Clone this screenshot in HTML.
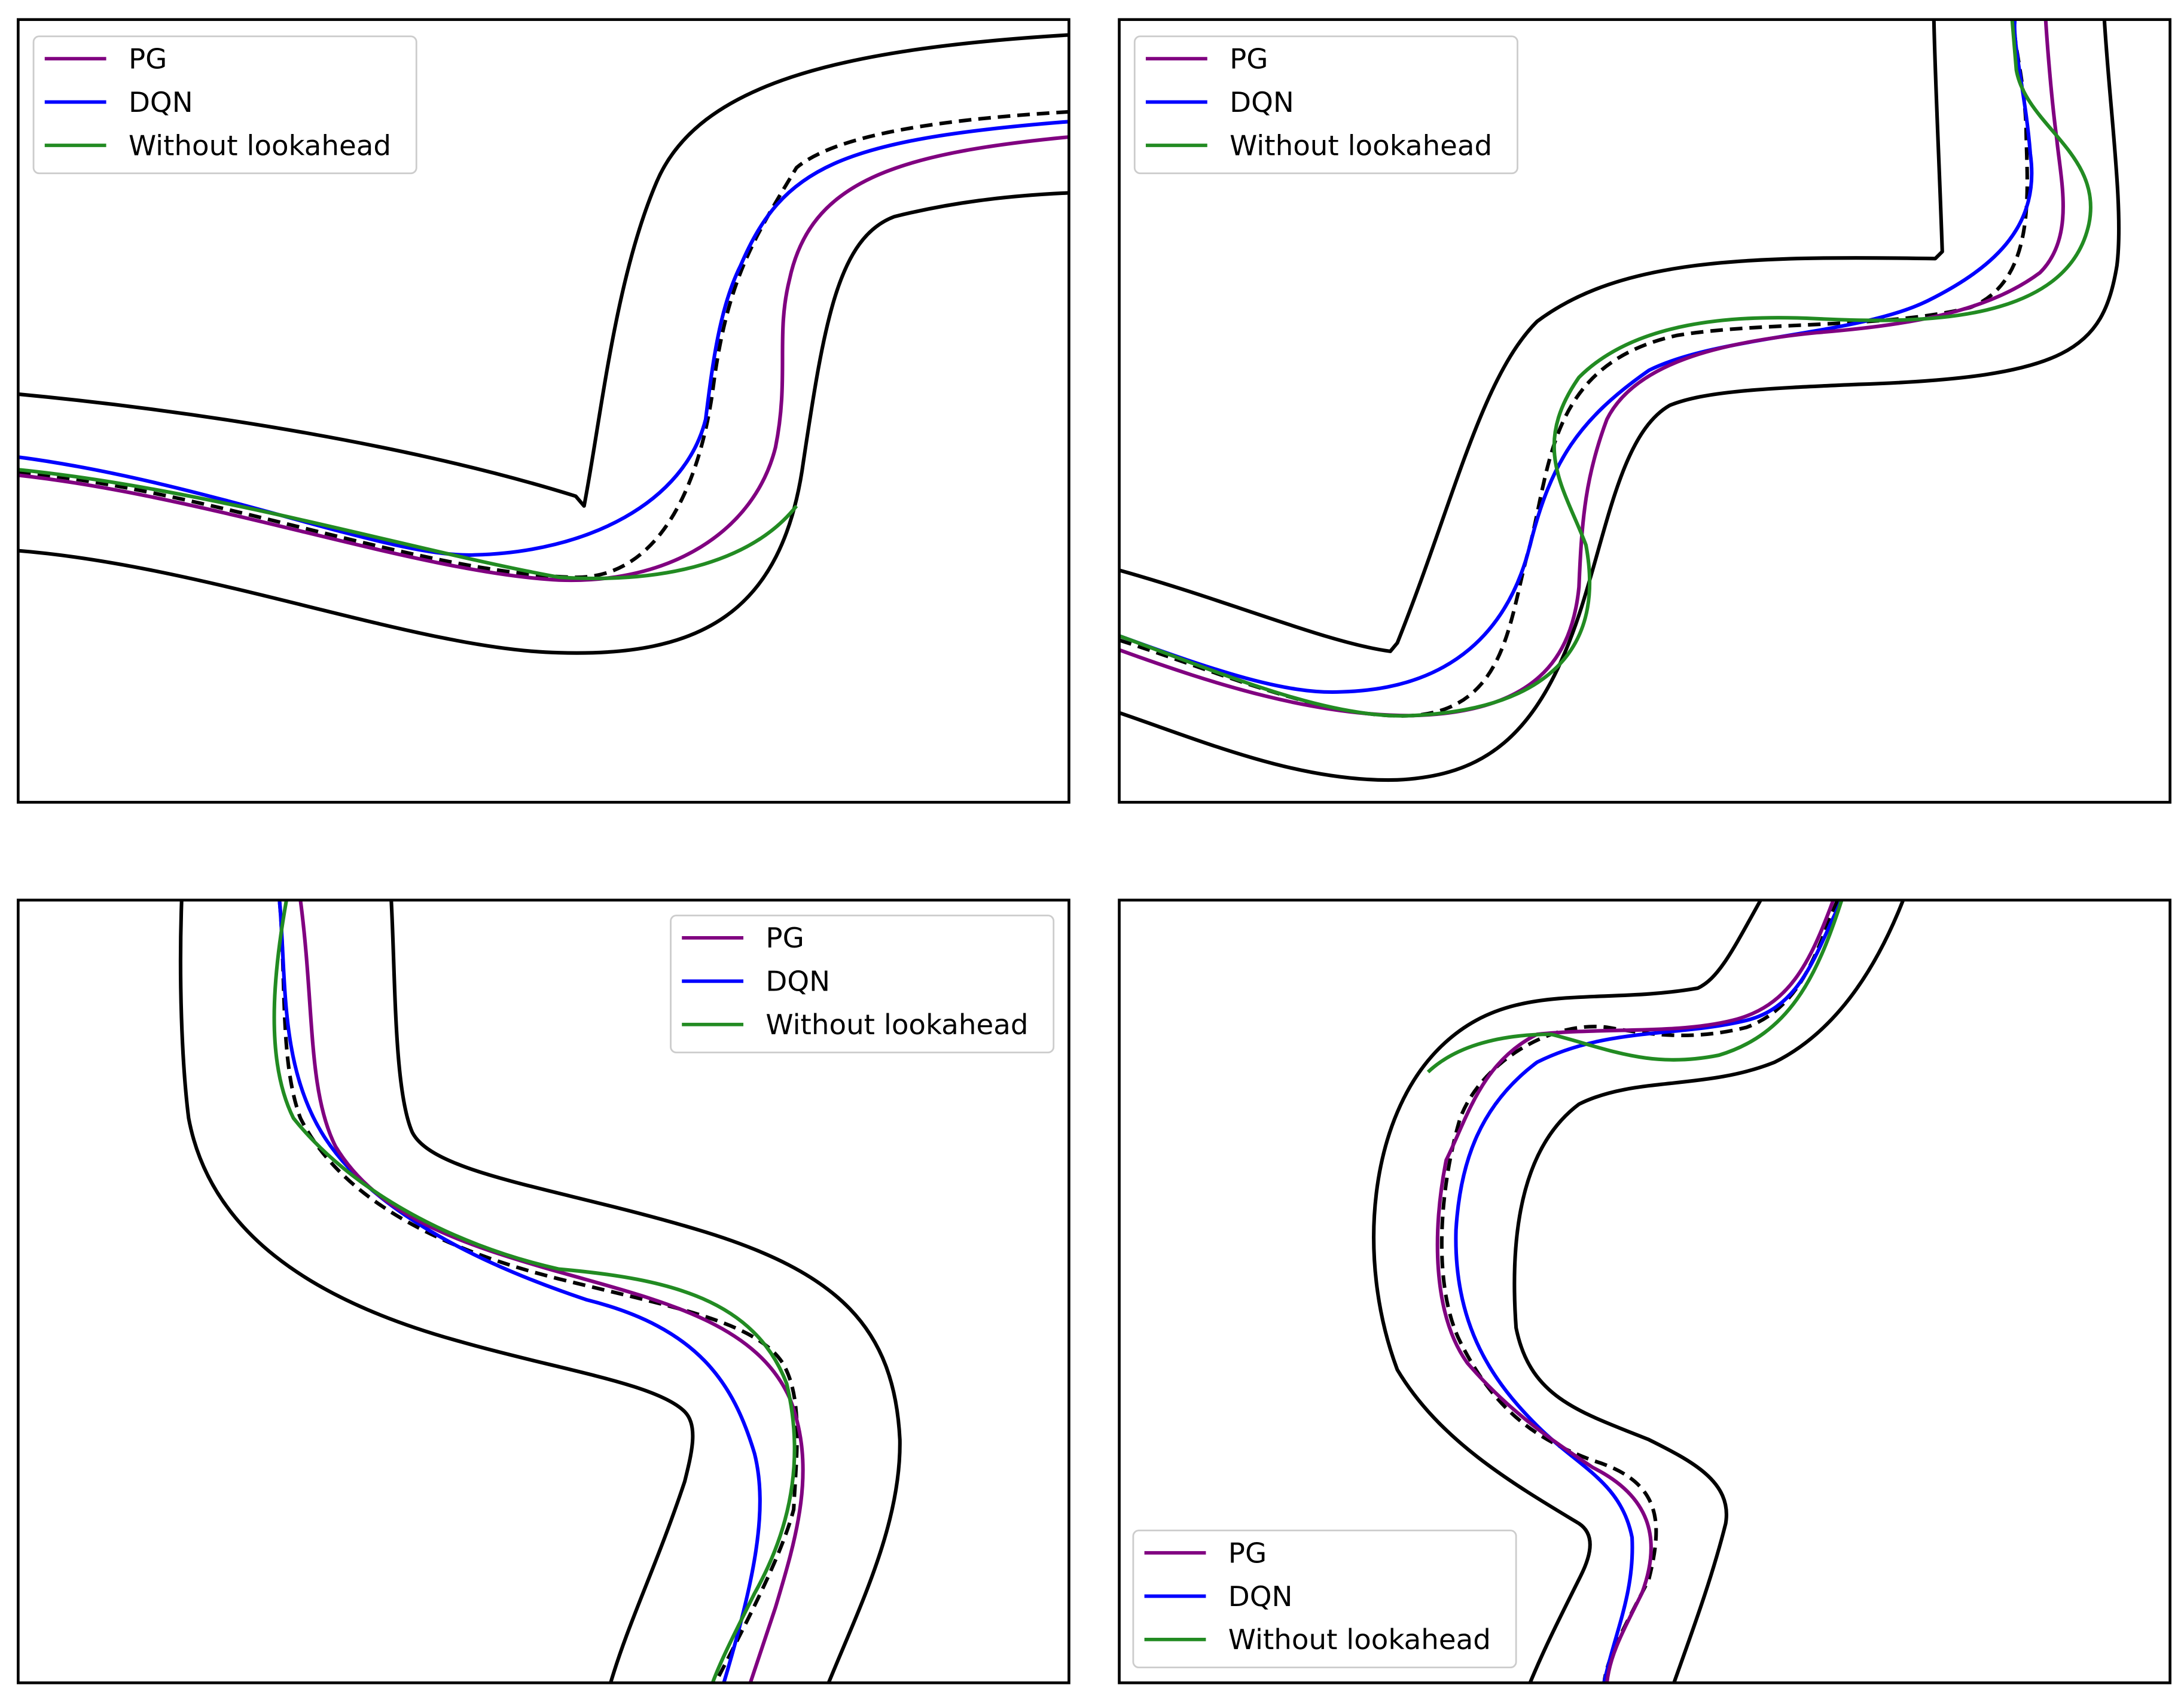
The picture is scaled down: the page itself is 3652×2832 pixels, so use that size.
<!DOCTYPE html>
<html><head><meta charset="utf-8"><style>
html,body{margin:0;padding:0;background:#fff;}
svg{display:block;}
text{font-family:"DejaVu Sans","Liberation Sans",sans-serif;font-size:20px;fill:#000;}
</style></head><body>
<svg width="3652" height="2832" viewBox="0 0 1563 1212" preserveAspectRatio="none" xmlns="http://www.w3.org/2000/svg">
<g fill="none" stroke-width="2.6" stroke-linejoin="round">
<!-- TL -->
<g>
<path stroke="#000" d="M13,282 C150,295 300,320 412,355 L418,362 C430,300 440,200 470,130 C500,60 600,35 765,25"/>
<path stroke="#000" d="M13,394 C150,405 300,465 400,467 C500,470 560,440 575,330 C590,230 600,170 640,155 C680,145 720,140 765,138"/>
<path stroke="#000" stroke-dasharray="9,5" d="M13,338 C150,350 300,410 410,413 C470,415 500,350 510,280 C520,200 540,170 570,120 C600,95 680,85 765,80"/>
<path stroke="#0000ff" d="M13,327 C150,345 280,400 340,397 C420,395 490,360 505,300 C510,260 515,220 530,190 C560,120 600,100 765,87"/>
<path stroke="#800080" d="M13,340 C150,355 300,410 400,415 C480,418 540,380 555,320 C565,270 555,240 565,200 C580,130 640,110 765,98"/>
<path stroke="#228b22" d="M13,336 C150,350 300,395 400,413 C480,418 540,400 570,362"/>
</g>
<!-- TR -->
<g>
<path stroke="#000" d="M801,408 C880,430 950,460 995,466 L1000,460 C1040,360 1060,270 1100,230 C1160,185 1250,183 1385,185 L1390,180 C1388,120 1385,60 1384,14"/>
<path stroke="#000" d="M1506,14 C1510,80 1520,150 1515,190 C1505,250 1480,270 1330,275 C1260,278 1220,280 1195,290 C1160,310 1150,380 1130,440 C1100,530 1060,555 1000,558 C930,560 860,530 801,510"/>
<path stroke="#000" stroke-dasharray="9,5" d="M801,458 C870,480 950,515 1010,512 C1080,508 1080,440 1095,390 C1110,330 1110,260 1200,240 C1260,230 1350,235 1410,220 C1460,200 1450,130 1450,90 C1448,50 1440,30 1442,14"/>
<path stroke="#0000ff" d="M801,455 C870,480 920,497 960,495 C1040,493 1080,450 1095,390 C1110,330 1130,300 1180,265 C1230,240 1330,240 1380,215 C1430,190 1460,160 1453,110 C1450,70 1440,30 1442,14"/>
<path stroke="#800080" d="M801,465 C870,490 940,512 1010,512 C1100,510 1125,470 1130,420 C1132,370 1135,340 1150,300 C1170,260 1230,245 1300,238 C1360,233 1420,225 1460,195 C1485,170 1475,130 1472,100 C1468,70 1465,30 1464,14"/>
<path stroke="#228b22" d="M801,455 C870,480 950,515 1010,512 C1100,508 1150,470 1135,390 C1120,350 1095,320 1130,270 C1170,230 1240,225 1300,228 C1380,232 1480,230 1495,160 C1505,110 1450,90 1443,50 L1440,14"/>
</g>
<!-- BL -->
<g>
<path stroke="#000" d="M130,644 C128,700 130,760 135,800 C150,880 220,930 330,960 C400,980 470,990 490,1010 C500,1020 495,1040 490,1060 C470,1120 450,1160 437,1204"/>
<path stroke="#000" d="M280,644 C283,700 282,780 295,810 C310,840 400,850 500,880 C600,910 640,950 644,1030 C645,1090 615,1150 593,1204"/>
<path stroke="#000" stroke-dasharray="9,5" d="M200,644 C205,700 200,760 215,800 C240,850 300,890 400,915 C480,935 540,945 560,975 C575,1000 570,1040 568,1080 C560,1110 540,1150 512,1204"/>
<path stroke="#0000ff" d="M200,644 C205,700 200,760 230,810 C260,860 330,900 420,930 C500,950 525,990 540,1040 C550,1080 540,1130 518,1204"/>
<path stroke="#800080" d="M215,644 C225,720 220,780 240,820 C270,870 330,890 400,910 C470,930 540,945 565,1000 C585,1050 570,1100 555,1150 C545,1180 540,1195 537,1204"/>
<path stroke="#228b22" d="M205,644 C195,700 190,760 210,800 C250,850 320,890 400,908 C480,915 540,930 563,990 C575,1040 568,1090 540,1140 C525,1170 515,1190 510,1204"/>
</g>
<!-- BR -->
<g>
<path stroke="#000" d="M1260,644 C1240,680 1230,700 1215,707 C1140,720 1080,700 1030,750 C980,800 970,900 1000,980 C1030,1030 1080,1060 1130,1090 C1145,1100 1135,1120 1130,1130 C1115,1160 1105,1180 1095,1204"/>
<path stroke="#000" d="M1362,644 C1340,700 1310,740 1270,760 C1220,780 1170,770 1130,790 C1090,820 1080,880 1085,950 C1095,1000 1130,1010 1180,1030 C1210,1045 1240,1060 1235,1090 C1225,1130 1210,1170 1198,1204"/>
<path stroke="#000" stroke-dasharray="9,5" d="M1315,644 C1300,680 1290,720 1250,735 C1210,745 1180,740 1150,735 C1110,730 1060,760 1045,800 C1030,850 1025,920 1045,960 C1070,1010 1100,1030 1140,1045 C1190,1060 1190,1090 1180,1130 C1165,1160 1150,1185 1148,1204"/>
<path stroke="#0000ff" d="M1318,644 C1300,680 1290,720 1250,730 C1200,742 1150,735 1100,760 C1060,790 1045,830 1042,880 C1040,950 1070,990 1100,1020 C1130,1050 1160,1060 1168,1100 C1170,1140 1155,1170 1148,1204"/>
<path stroke="#800080" d="M1312,644 C1295,690 1280,720 1240,730 C1200,740 1150,735 1100,740 C1060,760 1050,800 1035,830 C1025,880 1025,940 1050,975 C1080,1010 1110,1030 1140,1050 C1180,1070 1190,1100 1175,1140 C1160,1170 1152,1185 1150,1204"/>
<path stroke="#228b22" d="M1318,644 C1300,700 1280,740 1230,755 C1180,765 1150,750 1110,740 C1070,740 1040,750 1022,767"/>
</g>
</g>
<!-- frames -->
<g fill="none" stroke="#000" stroke-width="2">
<rect x="13" y="14" width="752" height="560"/>
<rect x="801" y="14" width="752" height="560"/>
<rect x="13" y="644" width="752" height="560"/>
<rect x="801" y="644" width="752" height="560"/>
</g>
<!-- legends -->
<g>
<g transform="translate(24,26)">
<rect x="0" y="0" width="274" height="98" rx="4" fill="#fff" fill-opacity="0.85" stroke="#ccc" stroke-width="1.2"/>
<line x1="8" y1="16" x2="52" y2="16" stroke="#800080" stroke-width="2.5"/><text x="68" y="23">PG</text>
<line x1="8" y1="47" x2="52" y2="47" stroke="#0000ff" stroke-width="2.5"/><text x="68" y="54">DQN</text>
<line x1="8" y1="78" x2="52" y2="78" stroke="#228b22" stroke-width="2.5"/><text x="68" y="85">Without lookahead</text>
</g>
<g transform="translate(812,26)">
<rect x="0" y="0" width="274" height="98" rx="4" fill="#fff" fill-opacity="0.85" stroke="#ccc" stroke-width="1.2"/>
<line x1="8" y1="16" x2="52" y2="16" stroke="#800080" stroke-width="2.5"/><text x="68" y="23">PG</text>
<line x1="8" y1="47" x2="52" y2="47" stroke="#0000ff" stroke-width="2.5"/><text x="68" y="54">DQN</text>
<line x1="8" y1="78" x2="52" y2="78" stroke="#228b22" stroke-width="2.5"/><text x="68" y="85">Without lookahead</text>
</g>
<g transform="translate(480,655)">
<rect x="0" y="0" width="274" height="98" rx="4" fill="#fff" fill-opacity="0.85" stroke="#ccc" stroke-width="1.2"/>
<line x1="8" y1="16" x2="52" y2="16" stroke="#800080" stroke-width="2.5"/><text x="68" y="23">PG</text>
<line x1="8" y1="47" x2="52" y2="47" stroke="#0000ff" stroke-width="2.5"/><text x="68" y="54">DQN</text>
<line x1="8" y1="78" x2="52" y2="78" stroke="#228b22" stroke-width="2.5"/><text x="68" y="85">Without lookahead</text>
</g>
<g transform="translate(811,1095)">
<rect x="0" y="0" width="274" height="98" rx="4" fill="#fff" fill-opacity="0.85" stroke="#ccc" stroke-width="1.2"/>
<line x1="8" y1="16" x2="52" y2="16" stroke="#800080" stroke-width="2.5"/><text x="68" y="23">PG</text>
<line x1="8" y1="47" x2="52" y2="47" stroke="#0000ff" stroke-width="2.5"/><text x="68" y="54">DQN</text>
<line x1="8" y1="78" x2="52" y2="78" stroke="#228b22" stroke-width="2.5"/><text x="68" y="85">Without lookahead</text>
</g>
</g>
</svg>
</body></html>
